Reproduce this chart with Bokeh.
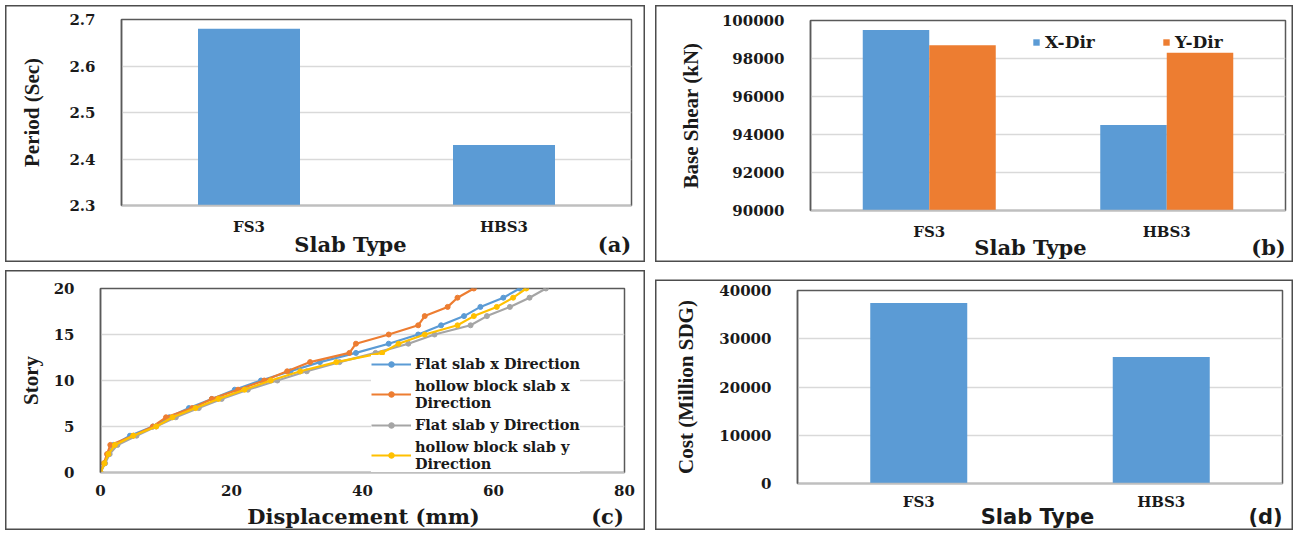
from bokeh.plotting import figure
from bokeh.layouts import row, column
from bokeh.models import (FactorRange, Range1d, FixedTicker, BasicTickFormatter,
                          Label, Legend, LegendItem, ColumnDataSource)
from bokeh.transform import dodge
from bokeh.embed import file_html
from bokeh.resources import INLINE

# ---- data -------------------------------------------------------------
slab_types = ["FS3", "HBS3"]
period_sec = [2.68, 2.43]
base_shear_x_dir = [99500, 94500]
base_shear_y_dir = [98700, 98300]
cost_million_sdg = [37400, 26200]

stories = list(range(21))
disp_flat_x = [0, 0.6, 1.2, 2.0, 4.5, 8.0, 10.5, 13.5, 17.0, 20.5, 24.5,
               29.0, 33.5, 39.0, 44.0, 48.5, 52.0, 55.5, 58.0, 61.5, 64.0]
disp_hollow_x = [0, 0.5, 1.0, 1.5, 5.0, 8.0, 10.0, 14.0, 17.0, 21.0, 25.0,
                 28.5, 32.0, 38.0, 39.0, 44.0, 48.5, 49.5, 53.0, 54.5, 57.0]
disp_flat_y = [0, 0.7, 1.4, 2.6, 5.5, 8.5, 11.5, 15.0, 18.5, 22.5, 27.0,
               31.5, 36.5, 42.0, 47.0, 51.0, 56.5, 59.0, 62.5, 65.5, 68.0]
disp_hollow_y = [0, 0.6, 1.2, 2.2, 5.0, 8.5, 11.0, 14.5, 18.0, 22.0, 26.0,
                 30.5, 36.0, 43.0, 45.5, 49.5, 54.5, 57.0, 60.5, 63.0, 65.0]

period_ticks = [2.3, 2.4, 2.5, 2.6, 2.7]
shear_ticks = [90000, 92000, 94000, 96000, 98000, 100000]
story_ticks = [0, 5, 10, 15, 20]
disp_ticks = [0, 20, 40, 60, 80]
cost_ticks = [0, 10000, 20000, 30000, 40000]

# ---- styling ----------------------------------------------------------
WIDE = "DejaVu Serif"
NARROW = "Liberation Serif"
INK = "#1a1a1a"
BLUE = "#5B9BD5"
ORANGE = "#ED7D31"
GRAY = "#A5A5A5"
YELLOW = "#FFC000"
GRID = "#D9D9D9"
FRAME = "#595959"
EDGE = "#4d4d4d"
BOX = "inset 0 0 0 1.5px " + EDGE
CAPTION_H = 30


def panel(width, height, x_range, y_range, borders, ylabel, ylabel_standoff,
          xlabel_standoff=6, box=BOX):
    left, right, top, bottom = borders
    p = figure(width=width, height=height, x_range=x_range, y_range=y_range,
               output_backend="svg", toolbar_location=None,
               min_border_left=left, min_border_right=right,
               min_border_top=top, min_border_bottom=bottom)
    p.border_fill_color = None
    p.background_fill_color = "white"
    p.styles = {"background-color": "white", "box-shadow": box}
    p.outline_line_color = FRAME
    p.outline_line_width = 1.5
    p.xgrid.grid_line_color = None
    p.ygrid.grid_line_color = GRID
    p.ygrid.grid_line_width = 1.5
    for ax in (p.xaxis[0], p.yaxis[0]):
        ax.major_tick_line_color = None
        ax.minor_tick_line_color = None
        ax.major_label_text_font = WIDE
        ax.major_label_text_font_style = "bold"
        ax.major_label_text_font_size = "15px"
        ax.major_label_text_color = INK
    p.yaxis.major_label_standoff = 20
    p.xaxis.major_label_standoff = xlabel_standoff
    p.yaxis.axis_line_color = FRAME
    p.yaxis.axis_line_width = 1.5
    p.xaxis.axis_line_color = "#BFBFBF"
    p.xaxis.axis_line_width = 1.5
    p.yaxis.axis_label = ylabel
    p.yaxis.axis_label_standoff = ylabel_standoff
    p.yaxis.axis_label_text_font = NARROW
    p.yaxis.axis_label_text_font_style = "bold"
    p.yaxis.axis_label_text_font_size = "21px"
    p.yaxis.axis_label_text_color = INK
    return p


def caption_strip(width, left_margin, entries, font=WIDE):
    # transparent strip laid over the bottom of a panel: x-axis title + tag;
    # its frame lines up with the panel's frame, so x runs from the frame's left
    c = figure(width=width, height=CAPTION_H, x_axis_type=None, y_axis_type=None,
               output_backend="svg", toolbar_location=None, min_border=0)
    c.border_fill_color = None
    c.background_fill_color = None
    c.outline_line_color = None
    for text, x, y in entries:
        c.add_layout(Label(x=x, y=y, x_units="screen", y_units="screen",
                           text=text, text_align="center",
                           text_baseline="middle", text_font=font,
                           text_font_style="bold", text_font_size="21px",
                           text_color=INK))
    c.margin = (-CAPTION_H, 0, 0, left_margin)
    return c


# ---- (a) fundamental period --------------------------------------------
pa = panel(640, 257, FactorRange(*slab_types), Range1d(2.3, 2.7),
           (116, 14, 14, 57), "Period (Sec)", 22)
pa.vbar(x=slab_types, top=period_sec, bottom=2.3, width=0.4,
        fill_color=BLUE, line_color=None)
pa.yaxis.ticker = FixedTicker(ticks=period_ticks)
pa.yaxis.formatter = BasicTickFormatter(precision=1)
pa.margin = (5, 0, 0, 5)
cap_a = caption_strip(640, 5, [("Slab Type", 229, 18), ("(a)", 493, 18)])

# ---- (b) base shear ------------------------------------------------------
src_b = ColumnDataSource(dict(slab=slab_types, xdir=base_shear_x_dir,
                              ydir=base_shear_y_dir))
pb = panel(638, 257, FactorRange(*slab_types), Range1d(90000, 100000),
           (155, 8, 15, 52), "Base Shear (kN)", 16)
rx = pb.vbar(x=dodge("slab", -0.14, range=pb.x_range), top="xdir", bottom=90000,
             width=0.28, source=src_b, fill_color=BLUE, line_color=None)
ry = pb.vbar(x=dodge("slab", 0.14, range=pb.x_range), top="ydir", bottom=90000,
             width=0.28, source=src_b, fill_color=ORANGE, line_color=None)
pb.yaxis.ticker = FixedTicker(ticks=shear_ticks)
pb.yaxis.formatter = BasicTickFormatter(use_scientific=False)
leg_b = Legend(items=[LegendItem(label="X-Dir", renderers=[rx]),
                      LegendItem(label="Y-Dir", renderers=[ry])],
               orientation="horizontal", location=(222, 158),
               glyph_width=8, glyph_height=8, label_standoff=5, label_width=117,
               spacing=0, padding=0, margin=0, border_line_color=None,
               background_fill_alpha=0, label_text_font=WIDE,
               label_text_font_style="bold", label_text_font_size="17px",
               label_text_color=INK)
pb.add_layout(leg_b)
pb.margin = (5, 0, 0, 10)
cap_b = caption_strip(638, 10, [("Slab Type", 220, 15), ("(b)", 458, 15)])

# ---- (c) story displacement ----------------------------------------------
pc = panel(640, 260, Range1d(0, 80), Range1d(0, 20),
           (95, 21, 18, 58), "Story", 8)
pc.xaxis.ticker = FixedTicker(ticks=disp_ticks)
pc.yaxis.ticker = FixedTicker(ticks=story_ticks)
series = [
    ("Flat slab x Direction", disp_flat_x, BLUE),
    ("hollow block slab x\nDirection", disp_hollow_x, ORANGE),
    ("Flat slab y Direction", disp_flat_y, GRAY),
    ("hollow block slab y\nDirection", disp_hollow_y, YELLOW),
]
items = []
for name, disp, color in series:
    ln = pc.line(disp, stories, line_color=color, line_width=2.2)
    mk = pc.scatter(disp, stories, marker="circle", size=5,
                    fill_color=color, line_color=color)
    items.append(LegendItem(label=name, renderers=[ln, mk]))
leg_c = Legend(items=items, location=(271, 0), glyph_width=40, glyph_height=14,
               label_standoff=4, label_height=14, spacing=5, padding=10,
               margin=0, border_line_color=None, background_fill_color="white",
               background_fill_alpha=1, label_text_font=WIDE,
               label_text_font_style="bold", label_text_font_size="14.5px",
               label_text_line_height=1.05, label_text_color=INK)
pc.add_layout(leg_c)
pc.margin = (8, 0, 0, 5)
cap_c = caption_strip(640, 5, [("Displacement (mm)", 263, 14), ("(c)", 507, 14)])

# ---- (d) cost --------------------------------------------------------------
# the panel edge sits 7px below the top of this figure
box_d = ("inset 0 8.5px 0 0 white, inset 0 10px 0 0 {e}, inset 1.5px 0 0 0 {e}, "
         "inset -1.5px 0 0 0 {e}, inset 0 -1.5px 0 0 {e}").format(e=EDGE)
pd_ = panel(638, 259, FactorRange(*slab_types), Range1d(0, 40000),
            (142, 11, 19, 47), "Cost (Million SDG)", 18, xlabel_standoff=3,
            box=box_d)
pd_.vbar(x=slab_types, top=cost_million_sdg, width=0.4,
         fill_color=BLUE, line_color=None)
pd_.yaxis.ticker = FixedTicker(ticks=cost_ticks)
pd_.yaxis.formatter = BasicTickFormatter(use_scientific=False)
pd_.margin = (9, 0, 0, 10)
cap_d = caption_strip(638, 10, [("Slab Type", 240, 14), ("(d)", 468, 14)],
                      font="DejaVu Sans")

layout = column(row(column(pa, cap_a), column(pb, cap_b)),
                row(column(pc, cap_c), column(pd_, cap_d)))
open("out.html", "w").write(file_html(layout, INLINE))
